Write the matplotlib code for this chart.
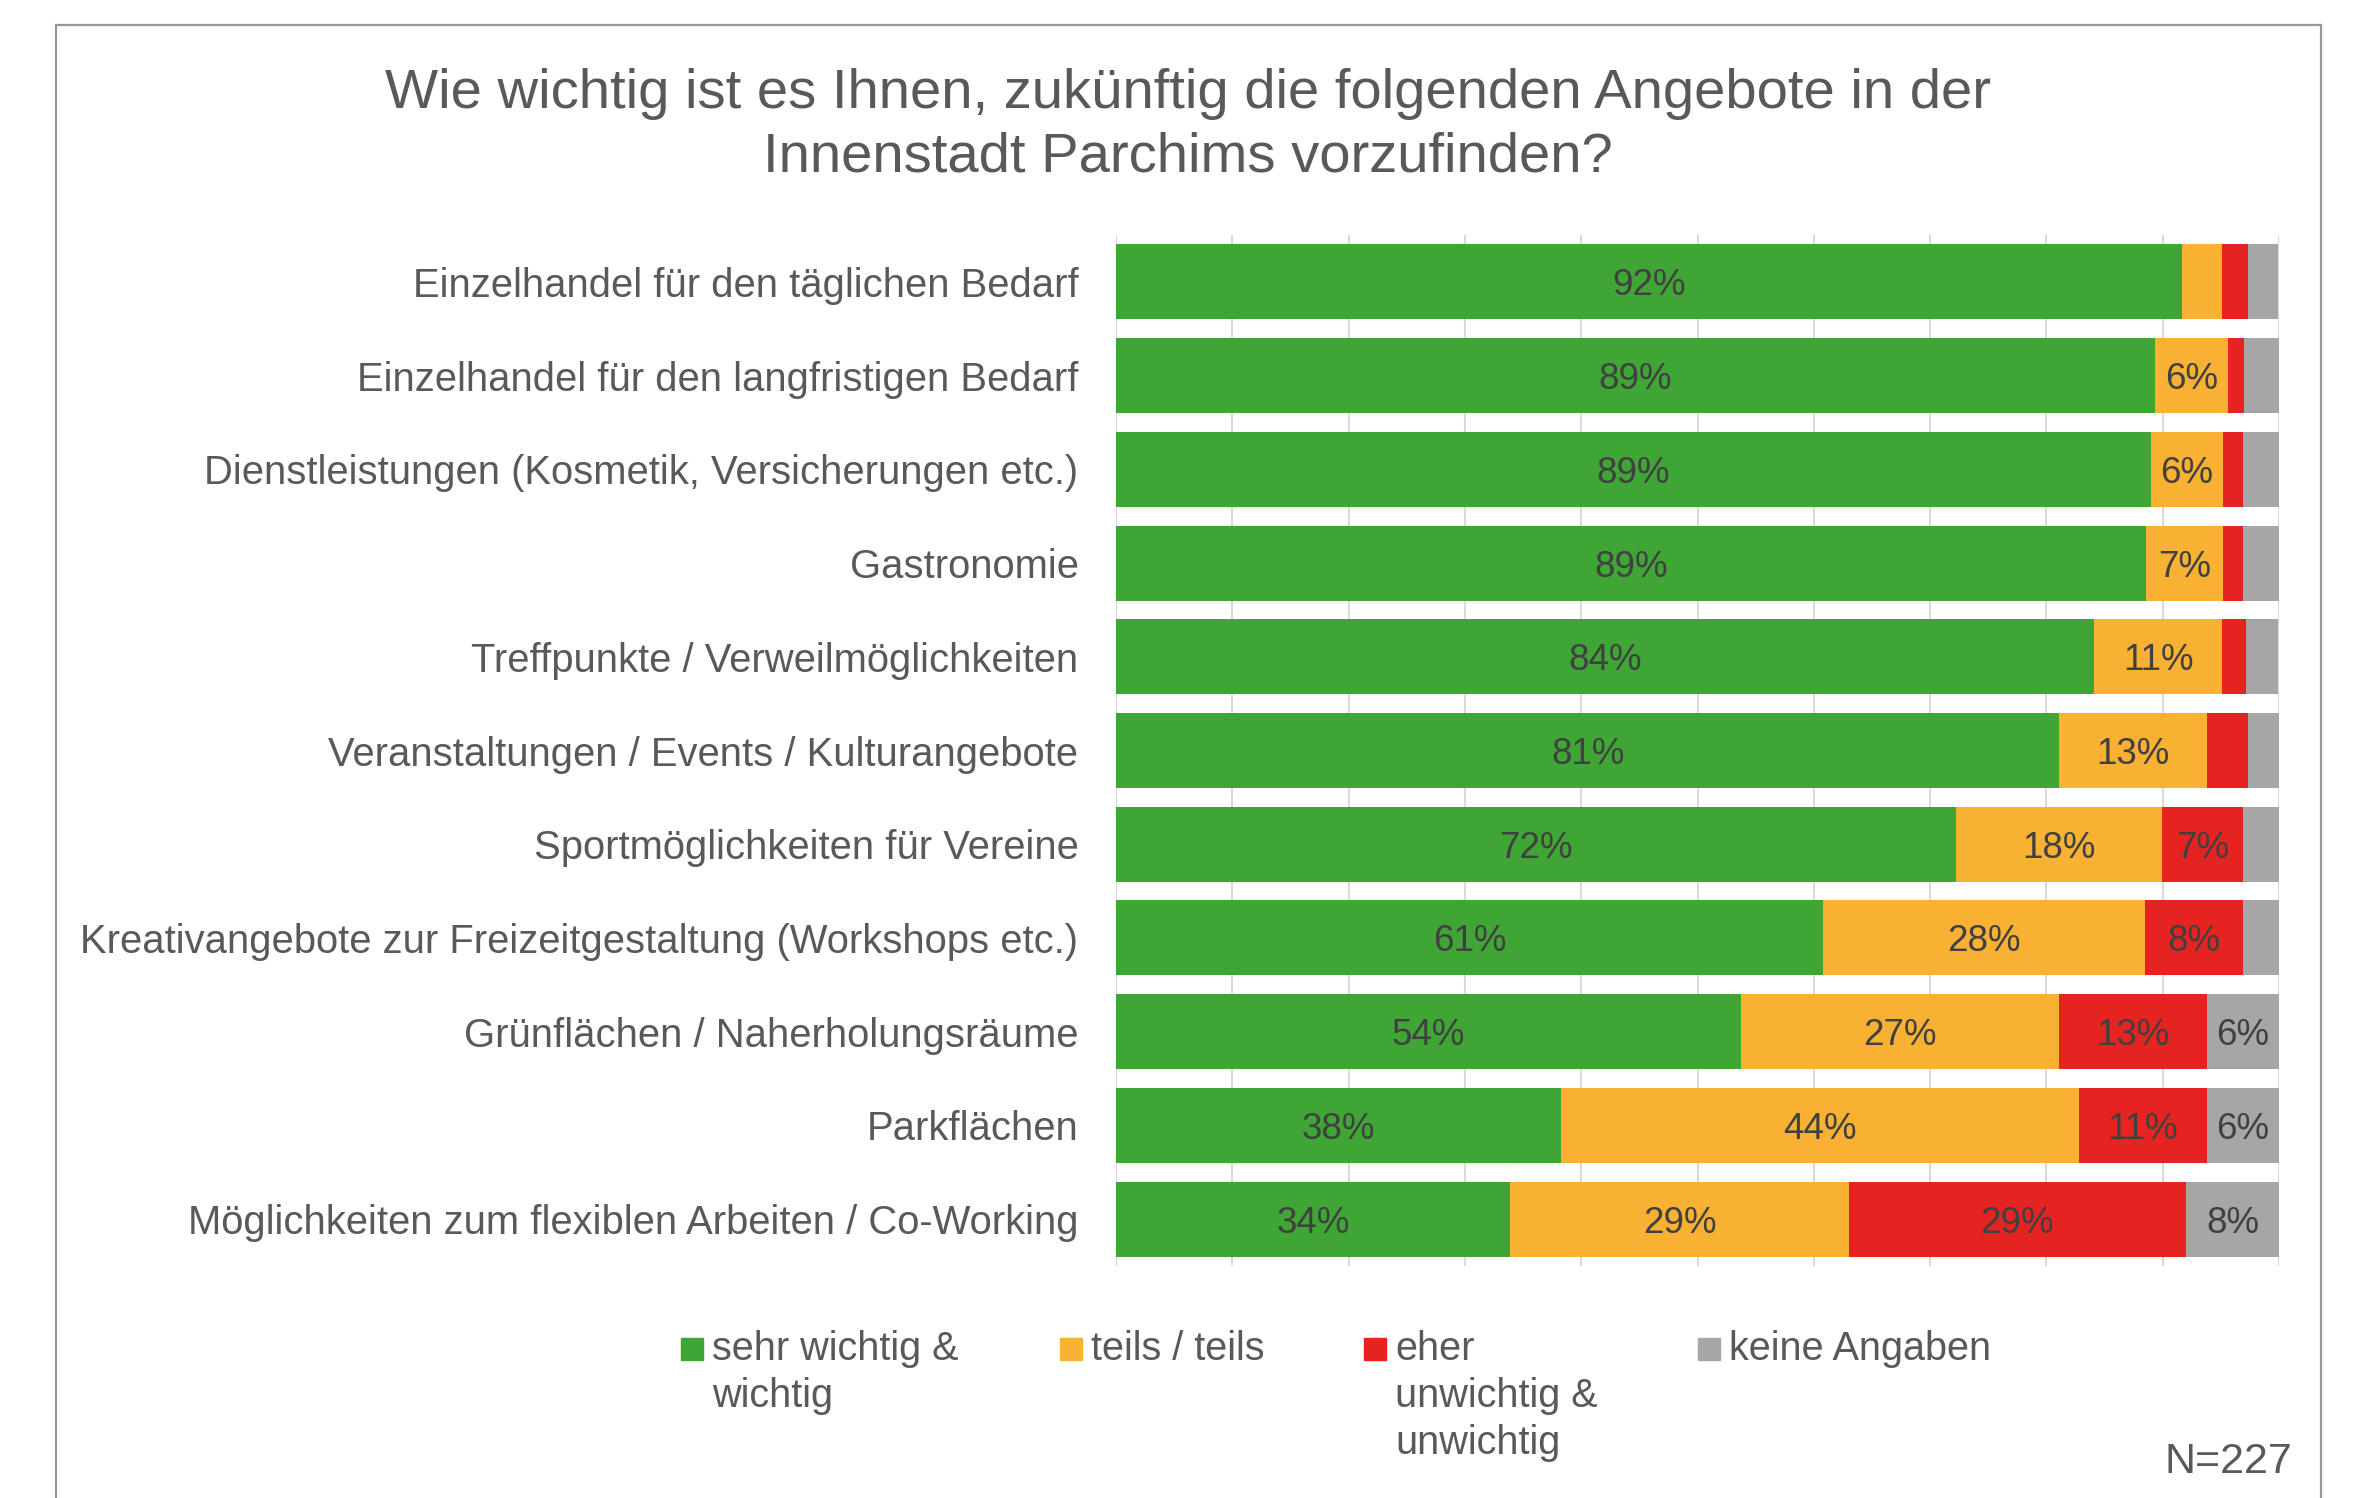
#!/usr/bin/env python3
# Umfrage Parchim: Wichtigkeit der Angebote in der Innenstadt
# gestapeltes Balkendiagramm (100 %)

import matplotlib
matplotlib.use('Agg')
import matplotlib.pyplot as plt
from matplotlib.patches import Rectangle

# ---- Daten (Anteile in %) ----
kategorien = [
    'Einzelhandel für den täglichen Bedarf',
    'Einzelhandel für den langfristigen Bedarf',
    'Dienstleistungen (Kosmetik, Versicherungen etc.)',
    'Gastronomie',
    'Treffpunkte / Verweilmöglichkeiten',
    'Veranstaltungen / Events / Kulturangebote',
    'Sportmöglichkeiten für Vereine',
    'Kreativangebote zur Freizeitgestaltung (Workshops etc.)',
    'Grünflächen / Naherholungsräume',
    'Parkflächen',
    'Möglichkeiten zum flexiblen Arbeiten / Co-Working',
]
sehr_wichtig = [91.7, 89.3, 89.0, 88.6, 84.1, 81.1, 72.2, 60.8, 53.7, 38.3, 33.9]
teils_teils = [3.4, 6.3, 6.2, 6.6, 11.0, 12.7, 17.7, 27.7, 27.4, 44.5, 29.1]
unwichtig = [2.2, 1.4, 1.7, 1.7, 2.1, 3.5, 7.0, 8.4, 12.7, 11.0, 29.0]
keine_angaben = [2.6, 3.0, 3.1, 3.1, 2.7, 2.7, 3.1, 3.1, 6.2, 6.2, 8.0]

legende = ['sehr wichtig &\nwichtig', 'teils / teils',
           'eher\nunwichtig &\nunwichtig', 'keine Angaben']
farben = ['#3fa535', '#f8b133', '#e52421', '#a6a6a6']

titel = ['Wie wichtig ist es Ihnen, zukünftig die folgenden Angebote in der',
         'Innenstadt Parchims vorzufinden?']
stichprobe = 'N=227'

W, H = 2359, 1498
plt.rcParams['font.family'] = ['Liberation Sans', 'DejaVu Sans']
GRAU = '#595959'


def fx(px):
    return px / W


def fy(py):
    return 1 - py / H


fig = plt.figure(figsize=(W / 100, H / 100), dpi=100)
ax = fig.add_axes([fx(1116), fy(1266), fx(2279) - fx(1116), fy(235) - fy(1266)])

serien = [sehr_wichtig, teils_teils, unwichtig, keine_angaben]
y = list(range(len(kategorien)))
links = [0.0] * len(kategorien)
for werte, farbe in zip(serien, farben):
    balken = ax.barh(y, werte, left=links, height=0.8, color=farbe,
                     edgecolor='none', zorder=2)
    # Beschriftung nur ab 5 %
    texte = [f'{round(v)}%' if v >= 5 else '' for v in werte]
    beschr = ax.bar_label(balken, labels=texte, label_type='center',
                          fontsize=26.5, color='#404040')
    for t in beschr:
        t.set_va('center_baseline')
    links = [a + b for a, b in zip(links, werte)]

ax.set_xlim(0, 100)
ax.set_ylim(len(kategorien) - 0.5, -0.5)
ax.set_xticks(range(0, 101, 10))
ax.set_xticklabels([])
ax.set_yticks(y)
ax.set_yticklabels(kategorien, fontsize=28.8, color=GRAU)
ax.tick_params(length=0, pad=27)
ax.xaxis.grid(True, color='#d9d9d9', linewidth=1.5, zorder=0)
ax.set_axisbelow(True)
for s in ax.spines.values():
    s.set_visible(False)

# Titel
fig.text(fx(1188), fy(108), titel[0], ha='center', va='baseline',
         fontsize=40.5, color=GRAU)
fig.text(fx(1188), fy(172), titel[1], ha='center', va='baseline',
         fontsize=40.5, color=GRAU)

# Legende von Hand (Quadrat an der ersten Zeile)
leg_x = [681, 1060, 1364, 1698]
for x0, text, farbe in zip(leg_x, legende, farben):
    fig.add_artist(Rectangle((fx(x0), fy(1360)), fx(22), 22 / H,
                             transform=fig.transFigure, color=farbe))
    for i, zeile in enumerate(text.split('\n')):
        fig.text(fx(x0 + 31), fy(1360 + i * 47), zeile, ha='left',
                 va='baseline', fontsize=28.5, color=GRAU)

fig.text(fx(2292), fy(1473), stichprobe, ha='right', va='baseline',
         fontsize=31, color=GRAU)

# Rahmen um das Diagramm
fig.add_artist(Rectangle((fx(56), -0.05), fx(2321) - fx(56), fy(25) + 0.05,
                         transform=fig.transFigure, fill=False,
                         edgecolor='#9d9792', linewidth=1.6, clip_on=False))

plt.savefig('out.png', dpi=100)
print("Diagramm gespeichert: out.png")
